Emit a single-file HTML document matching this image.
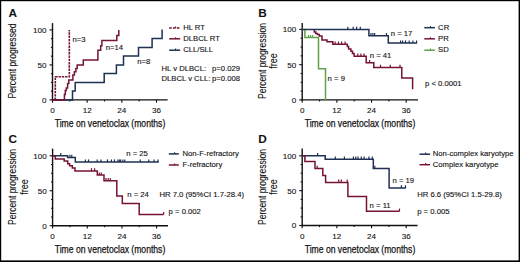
<!DOCTYPE html>
<html><head><meta charset="utf-8"><style>
html,body{margin:0;padding:0;background:#fff;}
body{width:520px;height:262px;overflow:hidden;}
svg{display:block;font-family:"Liberation Sans",sans-serif;}
</style></head><body>
<svg width="520" height="262" viewBox="0 0 520 262">
<rect x="0" y="0" width="520" height="262" fill="#fff"/>
<text x="8.50" y="16.90" font-size="11.8" text-anchor="start" font-weight="bold" fill="#111" >A</text>
<text x="0" y="0" font-size="10.5" text-anchor="middle" transform="translate(16,61) rotate(-90)" textLength="75" lengthAdjust="spacingAndGlyphs" fill="#111" stroke="#111" stroke-width="0.1">Percent progressed</text>
<line x1="52.50" y1="23.10" x2="52.50" y2="100.60" stroke="#111" stroke-width="1.4" />
<line x1="51.80" y1="99.90" x2="167.60" y2="99.90" stroke="#111" stroke-width="1.4" />
<line x1="49.50" y1="99.90" x2="52.50" y2="99.90" stroke="#111" stroke-width="1.1" />
<line x1="50.90" y1="91.15" x2="52.50" y2="91.15" stroke="#111" stroke-width="1.1" />
<line x1="50.90" y1="82.40" x2="52.50" y2="82.40" stroke="#111" stroke-width="1.1" />
<line x1="50.90" y1="73.65" x2="52.50" y2="73.65" stroke="#111" stroke-width="1.1" />
<line x1="49.50" y1="64.90" x2="52.50" y2="64.90" stroke="#111" stroke-width="1.1" />
<line x1="50.90" y1="56.15" x2="52.50" y2="56.15" stroke="#111" stroke-width="1.1" />
<line x1="50.90" y1="47.40" x2="52.50" y2="47.40" stroke="#111" stroke-width="1.1" />
<line x1="50.90" y1="38.65" x2="52.50" y2="38.65" stroke="#111" stroke-width="1.1" />
<line x1="49.50" y1="29.90" x2="52.50" y2="29.90" stroke="#111" stroke-width="1.1" />
<line x1="52.50" y1="99.90" x2="52.50" y2="102.70" stroke="#111" stroke-width="1.1" />
<line x1="69.83" y1="99.90" x2="69.83" y2="101.50" stroke="#111" stroke-width="1.1" />
<line x1="87.17" y1="99.90" x2="87.17" y2="102.70" stroke="#111" stroke-width="1.1" />
<line x1="104.50" y1="99.90" x2="104.50" y2="101.50" stroke="#111" stroke-width="1.1" />
<line x1="121.84" y1="99.90" x2="121.84" y2="102.70" stroke="#111" stroke-width="1.1" />
<line x1="139.17" y1="99.90" x2="139.17" y2="101.50" stroke="#111" stroke-width="1.1" />
<line x1="156.50" y1="99.90" x2="156.50" y2="102.70" stroke="#111" stroke-width="1.1" />
<text x="46.60" y="32.80" font-size="8.1" text-anchor="end" font-weight="normal" fill="#111"  stroke="#111" stroke-width="0.1">100</text>
<text x="46.60" y="67.80" font-size="8.1" text-anchor="end" font-weight="normal" fill="#111"  stroke="#111" stroke-width="0.1">50</text>
<text x="46.60" y="102.80" font-size="8.1" text-anchor="end" font-weight="normal" fill="#111"  stroke="#111" stroke-width="0.1">0</text>
<text x="52.50" y="113.40" font-size="8.1" text-anchor="middle" font-weight="normal" fill="#111"  stroke="#111" stroke-width="0.1">0</text>
<text x="87.17" y="113.40" font-size="8.1" text-anchor="middle" font-weight="normal" fill="#111"  stroke="#111" stroke-width="0.1">12</text>
<text x="121.84" y="113.40" font-size="8.1" text-anchor="middle" font-weight="normal" fill="#111"  stroke="#111" stroke-width="0.1">24</text>
<text x="156.50" y="113.40" font-size="8.1" text-anchor="middle" font-weight="normal" fill="#111"  stroke="#111" stroke-width="0.1">36</text>
<text x="110" y="126.6" font-size="10.5" text-anchor="middle" textLength="110.5" lengthAdjust="spacingAndGlyphs" fill="#111" stroke="#111" stroke-width="0.25">Time on venetoclax (months)</text>
<path d="M52.40,99.90 L72.50,99.90 L72.50,90.90 L75.20,90.90 L75.20,82.50 L104.20,82.50 L104.20,73.50 L116.40,73.50 L116.40,65.00 L123.50,65.00 L123.50,56.00 L138.50,56.00 L138.50,47.60 L152.10,47.60 L152.10,38.60 L162.10,38.60 L162.10,29.60" fill="none" stroke="#1f3052" stroke-width="1.5" stroke-linejoin="miter" stroke-linecap="butt" />
<path d="M52.40,99.90 L64.40,99.90 L64.40,94.50 L65.30,94.50 L65.30,90.50 L66.30,90.50 L66.30,88.00 L67.60,88.00 L67.60,83.40 L68.80,83.40 L68.80,80.00 L72.90,80.00 L72.90,75.10 L74.40,75.10 L74.40,71.80 L75.90,71.80 L75.90,68.40 L77.20,68.40 L77.20,65.00 L83.30,65.00 L83.30,60.00 L97.90,60.00 L97.90,50.20 L100.70,50.20 L100.70,45.80 L101.90,45.80 L101.90,40.40 L116.80,40.40 L116.80,35.60 L118.80,35.60 L118.80,29.90" fill="none" stroke="#761335" stroke-width="1.5" stroke-linejoin="miter" stroke-linecap="butt" />
<path d="M55.30,99.90 L55.30,76.70 L69.30,76.70 L69.30,29.90" fill="none" stroke="#761335" stroke-width="1.6" stroke-linejoin="miter" stroke-linecap="butt" stroke-dasharray="2.4,0.9"/>
<text x="72.50" y="41.50" font-size="7.7" text-anchor="start" font-weight="normal" fill="#111"  stroke="#111" stroke-width="0.12">n=3</text>
<text x="105.80" y="50.10" font-size="7.7" text-anchor="start" font-weight="normal" fill="#111"  stroke="#111" stroke-width="0.12">n=14</text>
<text x="137.20" y="63.70" font-size="7.7" text-anchor="start" font-weight="normal" fill="#111"  stroke="#111" stroke-width="0.12">n=8</text>
<line x1="169.20" y1="28.00" x2="180.20" y2="28.00" stroke="#761335" stroke-width="1.5" stroke-dasharray="2.6,1.2"/>
<line x1="175.58" y1="28.00" x2="175.58" y2="26.40" stroke="#761335" stroke-width="1.1" />
<text x="183.20" y="30.20" font-size="7.7" text-anchor="start" font-weight="normal" fill="#111"  stroke="#111" stroke-width="0.12">HL RT</text>
<line x1="169.20" y1="38.80" x2="180.20" y2="38.80" stroke="#761335" stroke-width="1.5" />
<line x1="175.58" y1="38.80" x2="175.58" y2="37.20" stroke="#761335" stroke-width="1.1" />
<text x="183.20" y="41.00" font-size="7.7" text-anchor="start" font-weight="normal" fill="#111"  stroke="#111" stroke-width="0.12">DLBCL RT</text>
<line x1="169.20" y1="50.20" x2="180.20" y2="50.20" stroke="#1f3052" stroke-width="1.5" />
<line x1="175.58" y1="50.20" x2="175.58" y2="48.60" stroke="#1f3052" stroke-width="1.1" />
<text x="183.20" y="52.40" font-size="7.7" text-anchor="start" font-weight="normal" fill="#111"  stroke="#111" stroke-width="0.12">CLL/SLL</text>
<text x="161.50" y="71.20" font-size="7.7" text-anchor="start" font-weight="normal" fill="#111"  stroke="#111" stroke-width="0.12">HL v DLBCL:</text>
<text x="212.00" y="71.20" font-size="7.7" text-anchor="start" font-weight="normal" fill="#111"  stroke="#111" stroke-width="0.12">p=0.029</text>
<text x="161.50" y="80.90" font-size="7.7" text-anchor="start" font-weight="normal" fill="#111"  stroke="#111" stroke-width="0.12">DLBCL v CLL:</text>
<text x="212.00" y="80.90" font-size="7.7" text-anchor="start" font-weight="normal" fill="#111"  stroke="#111" stroke-width="0.12">p=0.008</text>
<text x="258.20" y="17.20" font-size="11.8" text-anchor="start" font-weight="bold" fill="#111" >B</text>
<text x="0" y="0" font-size="10.5" text-anchor="middle" transform="translate(265.8,61) rotate(-90)" textLength="76" lengthAdjust="spacingAndGlyphs" fill="#111" stroke="#111" stroke-width="0.1">Percent progression</text>
<text x="0" y="0" font-size="10.5" text-anchor="middle" transform="translate(276.6,61) rotate(-90)" textLength="15.5" lengthAdjust="spacingAndGlyphs" fill="#111" stroke="#111" stroke-width="0.1">free</text>
<line x1="302.20" y1="23.00" x2="302.20" y2="100.60" stroke="#111" stroke-width="1.4" />
<line x1="301.50" y1="99.90" x2="418.00" y2="99.90" stroke="#111" stroke-width="1.4" />
<line x1="299.20" y1="99.90" x2="302.20" y2="99.90" stroke="#111" stroke-width="1.1" />
<line x1="300.60" y1="91.09" x2="302.20" y2="91.09" stroke="#111" stroke-width="1.1" />
<line x1="300.60" y1="82.28" x2="302.20" y2="82.28" stroke="#111" stroke-width="1.1" />
<line x1="300.60" y1="73.46" x2="302.20" y2="73.46" stroke="#111" stroke-width="1.1" />
<line x1="299.20" y1="64.65" x2="302.20" y2="64.65" stroke="#111" stroke-width="1.1" />
<line x1="300.60" y1="55.84" x2="302.20" y2="55.84" stroke="#111" stroke-width="1.1" />
<line x1="300.60" y1="47.03" x2="302.20" y2="47.03" stroke="#111" stroke-width="1.1" />
<line x1="300.60" y1="38.21" x2="302.20" y2="38.21" stroke="#111" stroke-width="1.1" />
<line x1="299.20" y1="29.40" x2="302.20" y2="29.40" stroke="#111" stroke-width="1.1" />
<line x1="302.20" y1="99.90" x2="302.20" y2="102.70" stroke="#111" stroke-width="1.1" />
<line x1="319.53" y1="99.90" x2="319.53" y2="101.50" stroke="#111" stroke-width="1.1" />
<line x1="336.87" y1="99.90" x2="336.87" y2="102.70" stroke="#111" stroke-width="1.1" />
<line x1="354.20" y1="99.90" x2="354.20" y2="101.50" stroke="#111" stroke-width="1.1" />
<line x1="371.54" y1="99.90" x2="371.54" y2="102.70" stroke="#111" stroke-width="1.1" />
<line x1="388.87" y1="99.90" x2="388.87" y2="101.50" stroke="#111" stroke-width="1.1" />
<line x1="406.20" y1="99.90" x2="406.20" y2="102.70" stroke="#111" stroke-width="1.1" />
<text x="296.30" y="32.30" font-size="8.1" text-anchor="end" font-weight="normal" fill="#111"  stroke="#111" stroke-width="0.1">100</text>
<text x="296.30" y="67.55" font-size="8.1" text-anchor="end" font-weight="normal" fill="#111"  stroke="#111" stroke-width="0.1">50</text>
<text x="296.30" y="102.80" font-size="8.1" text-anchor="end" font-weight="normal" fill="#111"  stroke="#111" stroke-width="0.1">0</text>
<text x="302.20" y="113.40" font-size="8.1" text-anchor="middle" font-weight="normal" fill="#111"  stroke="#111" stroke-width="0.1">0</text>
<text x="336.87" y="113.40" font-size="8.1" text-anchor="middle" font-weight="normal" fill="#111"  stroke="#111" stroke-width="0.1">12</text>
<text x="371.54" y="113.40" font-size="8.1" text-anchor="middle" font-weight="normal" fill="#111"  stroke="#111" stroke-width="0.1">24</text>
<text x="406.20" y="113.40" font-size="8.1" text-anchor="middle" font-weight="normal" fill="#111"  stroke="#111" stroke-width="0.1">36</text>
<text x="360" y="126.6" font-size="10.5" text-anchor="middle" textLength="110.5" lengthAdjust="spacingAndGlyphs" fill="#111" stroke="#111" stroke-width="0.25">Time on venetoclax (months)</text>
<path d="M302.20,29.40 L304.90,29.40 L304.90,37.60 L318.50,37.60 L318.50,68.70 L325.50,68.70 L325.50,99.90" fill="none" stroke="#62a04a" stroke-width="1.5" stroke-linejoin="miter" stroke-linecap="butt" />
<line x1="308.60" y1="37.60" x2="308.60" y2="34.90" stroke="#62a04a" stroke-width="1.2" />
<line x1="310.60" y1="37.60" x2="310.60" y2="34.90" stroke="#62a04a" stroke-width="1.2" />
<line x1="312.60" y1="37.60" x2="312.60" y2="34.90" stroke="#62a04a" stroke-width="1.2" />
<path d="M314.30,29.40 L314.30,29.40 L314.30,32.00 L315.80,32.00 L315.80,33.40 L317.40,33.40 L317.40,34.60 L319.30,34.60 L319.30,35.90 L322.00,35.90 L322.00,39.90 L327.00,39.90 L327.00,41.80 L332.80,41.80 L332.80,44.20 L347.30,44.20 L347.30,46.40 L348.60,46.40 L348.60,48.90 L350.90,48.90 L350.90,51.20 L352.50,51.20 L352.50,53.50 L354.10,53.50 L354.10,56.20 L366.20,56.20 L366.20,62.80 L373.80,62.80 L373.80,67.40 L401.80,67.40 L401.80,78.00 L412.60,78.00 L412.60,89.30" fill="none" stroke="#761335" stroke-width="1.5" stroke-linejoin="miter" stroke-linecap="butt" />
<line x1="335.10" y1="44.20" x2="335.10" y2="41.50" stroke="#761335" stroke-width="1.2" />
<line x1="338.50" y1="44.20" x2="338.50" y2="41.50" stroke="#761335" stroke-width="1.2" />
<line x1="341.60" y1="44.20" x2="341.60" y2="41.50" stroke="#761335" stroke-width="1.2" />
<line x1="345.10" y1="44.20" x2="345.10" y2="41.50" stroke="#761335" stroke-width="1.2" />
<line x1="357.80" y1="56.20" x2="357.80" y2="53.50" stroke="#761335" stroke-width="1.2" />
<line x1="360.90" y1="56.20" x2="360.90" y2="53.50" stroke="#761335" stroke-width="1.2" />
<line x1="364.00" y1="56.20" x2="364.00" y2="53.50" stroke="#761335" stroke-width="1.2" />
<line x1="369.60" y1="62.80" x2="369.60" y2="60.10" stroke="#761335" stroke-width="1.2" />
<line x1="380.50" y1="67.40" x2="380.50" y2="64.70" stroke="#761335" stroke-width="1.2" />
<line x1="390.30" y1="67.40" x2="390.30" y2="64.70" stroke="#761335" stroke-width="1.2" />
<line x1="400.00" y1="67.40" x2="400.00" y2="64.70" stroke="#761335" stroke-width="1.2" />
<path d="M302.20,29.40 L368.90,29.40 L368.90,35.70 L388.30,35.70 L388.30,43.10 L417.00,43.10" fill="none" stroke="#1f3052" stroke-width="1.5" stroke-linejoin="miter" stroke-linecap="butt" />
<line x1="347.80" y1="29.40" x2="347.80" y2="26.70" stroke="#1f3052" stroke-width="1.2" />
<line x1="353.20" y1="29.40" x2="353.20" y2="26.70" stroke="#1f3052" stroke-width="1.2" />
<line x1="356.60" y1="29.40" x2="356.60" y2="26.70" stroke="#1f3052" stroke-width="1.2" />
<line x1="360.30" y1="29.40" x2="360.30" y2="26.70" stroke="#1f3052" stroke-width="1.2" />
<line x1="371.00" y1="35.70" x2="371.00" y2="33.00" stroke="#1f3052" stroke-width="1.2" />
<line x1="372.90" y1="35.70" x2="372.90" y2="33.00" stroke="#1f3052" stroke-width="1.2" />
<line x1="374.60" y1="35.70" x2="374.60" y2="33.00" stroke="#1f3052" stroke-width="1.2" />
<line x1="386.50" y1="35.70" x2="386.50" y2="33.00" stroke="#1f3052" stroke-width="1.2" />
<line x1="400.60" y1="43.10" x2="400.60" y2="40.40" stroke="#1f3052" stroke-width="1.2" />
<line x1="402.60" y1="43.10" x2="402.60" y2="40.40" stroke="#1f3052" stroke-width="1.2" />
<line x1="405.50" y1="43.10" x2="405.50" y2="40.40" stroke="#1f3052" stroke-width="1.2" />
<line x1="409.20" y1="43.10" x2="409.20" y2="40.40" stroke="#1f3052" stroke-width="1.2" />
<line x1="412.90" y1="43.10" x2="412.90" y2="40.40" stroke="#1f3052" stroke-width="1.2" />
<line x1="416.60" y1="43.10" x2="416.60" y2="40.40" stroke="#1f3052" stroke-width="1.2" />
<text x="390.80" y="36.10" font-size="7.7" text-anchor="start" font-weight="normal" fill="#111"  stroke="#111" stroke-width="0.12">n = 17</text>
<text x="369.80" y="58.00" font-size="7.7" text-anchor="start" font-weight="normal" fill="#111"  stroke="#111" stroke-width="0.12">n = 41</text>
<text x="327.60" y="80.50" font-size="7.7" text-anchor="start" font-weight="normal" fill="#111"  stroke="#111" stroke-width="0.12">n = 9</text>
<line x1="424.30" y1="27.70" x2="434.90" y2="27.70" stroke="#1f3052" stroke-width="1.5" />
<line x1="430.45" y1="27.70" x2="430.45" y2="26.10" stroke="#1f3052" stroke-width="1.1" />
<text x="438.10" y="29.90" font-size="7.7" text-anchor="start" font-weight="normal" fill="#111"  stroke="#111" stroke-width="0.12">CR</text>
<line x1="424.30" y1="38.80" x2="434.90" y2="38.80" stroke="#761335" stroke-width="1.5" />
<line x1="430.45" y1="38.80" x2="430.45" y2="37.20" stroke="#761335" stroke-width="1.1" />
<text x="438.10" y="41.00" font-size="7.7" text-anchor="start" font-weight="normal" fill="#111"  stroke="#111" stroke-width="0.12">PR</text>
<line x1="424.30" y1="50.20" x2="434.90" y2="50.20" stroke="#62a04a" stroke-width="1.5" />
<line x1="430.45" y1="50.20" x2="430.45" y2="48.60" stroke="#62a04a" stroke-width="1.1" />
<text x="438.10" y="52.40" font-size="7.7" text-anchor="start" font-weight="normal" fill="#111"  stroke="#111" stroke-width="0.12">SD</text>
<text x="425.00" y="86.10" font-size="7.7" text-anchor="start" font-weight="normal" fill="#111"  stroke="#111" stroke-width="0.12">p &lt; 0.0001</text>
<text x="8.50" y="142.90" font-size="11.8" text-anchor="start" font-weight="bold" fill="#111" >C</text>
<text x="0" y="0" font-size="10.5" text-anchor="middle" transform="translate(16.3,187) rotate(-90)" textLength="76" lengthAdjust="spacingAndGlyphs" fill="#111" stroke="#111" stroke-width="0.1">Percent progression</text>
<text x="0" y="0" font-size="10.5" text-anchor="middle" transform="translate(27.6,187) rotate(-90)" textLength="15.5" lengthAdjust="spacingAndGlyphs" fill="#111" stroke="#111" stroke-width="0.1">free</text>
<line x1="52.60" y1="148.60" x2="52.60" y2="226.40" stroke="#111" stroke-width="1.4" />
<line x1="51.90" y1="225.70" x2="168.00" y2="225.70" stroke="#111" stroke-width="1.4" />
<line x1="49.60" y1="225.70" x2="52.60" y2="225.70" stroke="#111" stroke-width="1.1" />
<line x1="51.00" y1="216.96" x2="52.60" y2="216.96" stroke="#111" stroke-width="1.1" />
<line x1="51.00" y1="208.22" x2="52.60" y2="208.22" stroke="#111" stroke-width="1.1" />
<line x1="51.00" y1="199.49" x2="52.60" y2="199.49" stroke="#111" stroke-width="1.1" />
<line x1="49.60" y1="190.75" x2="52.60" y2="190.75" stroke="#111" stroke-width="1.1" />
<line x1="51.00" y1="182.01" x2="52.60" y2="182.01" stroke="#111" stroke-width="1.1" />
<line x1="51.00" y1="173.28" x2="52.60" y2="173.28" stroke="#111" stroke-width="1.1" />
<line x1="51.00" y1="164.54" x2="52.60" y2="164.54" stroke="#111" stroke-width="1.1" />
<line x1="49.60" y1="155.80" x2="52.60" y2="155.80" stroke="#111" stroke-width="1.1" />
<line x1="52.60" y1="225.70" x2="52.60" y2="228.50" stroke="#111" stroke-width="1.1" />
<line x1="69.93" y1="225.70" x2="69.93" y2="227.30" stroke="#111" stroke-width="1.1" />
<line x1="87.27" y1="225.70" x2="87.27" y2="228.50" stroke="#111" stroke-width="1.1" />
<line x1="104.60" y1="225.70" x2="104.60" y2="227.30" stroke="#111" stroke-width="1.1" />
<line x1="121.94" y1="225.70" x2="121.94" y2="228.50" stroke="#111" stroke-width="1.1" />
<line x1="139.27" y1="225.70" x2="139.27" y2="227.30" stroke="#111" stroke-width="1.1" />
<line x1="156.60" y1="225.70" x2="156.60" y2="228.50" stroke="#111" stroke-width="1.1" />
<text x="46.70" y="158.70" font-size="8.1" text-anchor="end" font-weight="normal" fill="#111"  stroke="#111" stroke-width="0.1">100</text>
<text x="46.70" y="193.65" font-size="8.1" text-anchor="end" font-weight="normal" fill="#111"  stroke="#111" stroke-width="0.1">50</text>
<text x="46.70" y="228.60" font-size="8.1" text-anchor="end" font-weight="normal" fill="#111"  stroke="#111" stroke-width="0.1">0</text>
<text x="52.60" y="239.20" font-size="8.1" text-anchor="middle" font-weight="normal" fill="#111"  stroke="#111" stroke-width="0.1">0</text>
<text x="87.27" y="239.20" font-size="8.1" text-anchor="middle" font-weight="normal" fill="#111"  stroke="#111" stroke-width="0.1">12</text>
<text x="121.94" y="239.20" font-size="8.1" text-anchor="middle" font-weight="normal" fill="#111"  stroke="#111" stroke-width="0.1">24</text>
<text x="156.60" y="239.20" font-size="8.1" text-anchor="middle" font-weight="normal" fill="#111"  stroke="#111" stroke-width="0.1">36</text>
<text x="110" y="253.2" font-size="10.5" text-anchor="middle" textLength="110.5" lengthAdjust="spacingAndGlyphs" fill="#111" stroke="#111" stroke-width="0.25">Time on venetoclax (months)</text>
<path d="M52.60,155.80 L67.60,155.80 L67.60,157.50 L75.30,157.50 L75.30,162.10 L158.80,162.10" fill="none" stroke="#1f3052" stroke-width="1.5" stroke-linejoin="miter" stroke-linecap="butt" />
<line x1="60.80" y1="155.80" x2="60.80" y2="153.10" stroke="#1f3052" stroke-width="1.2" />
<line x1="69.90" y1="157.50" x2="69.90" y2="154.80" stroke="#1f3052" stroke-width="1.2" />
<line x1="71.80" y1="157.50" x2="71.80" y2="154.80" stroke="#1f3052" stroke-width="1.2" />
<line x1="85.40" y1="162.10" x2="85.40" y2="159.40" stroke="#1f3052" stroke-width="1.2" />
<line x1="88.50" y1="162.10" x2="88.50" y2="159.40" stroke="#1f3052" stroke-width="1.2" />
<line x1="97.20" y1="162.10" x2="97.20" y2="159.40" stroke="#1f3052" stroke-width="1.2" />
<line x1="101.00" y1="162.10" x2="101.00" y2="159.40" stroke="#1f3052" stroke-width="1.2" />
<line x1="107.50" y1="162.10" x2="107.50" y2="159.40" stroke="#1f3052" stroke-width="1.2" />
<line x1="111.40" y1="162.10" x2="111.40" y2="159.40" stroke="#1f3052" stroke-width="1.2" />
<line x1="114.50" y1="162.10" x2="114.50" y2="159.40" stroke="#1f3052" stroke-width="1.2" />
<line x1="118.00" y1="162.10" x2="118.00" y2="159.40" stroke="#1f3052" stroke-width="1.2" />
<line x1="119.30" y1="162.10" x2="119.30" y2="159.40" stroke="#1f3052" stroke-width="1.2" />
<line x1="120.60" y1="162.10" x2="120.60" y2="159.40" stroke="#1f3052" stroke-width="1.2" />
<line x1="122.90" y1="162.10" x2="122.90" y2="159.40" stroke="#1f3052" stroke-width="1.2" />
<line x1="124.80" y1="162.10" x2="124.80" y2="159.40" stroke="#1f3052" stroke-width="1.2" />
<line x1="140.20" y1="162.10" x2="140.20" y2="159.40" stroke="#1f3052" stroke-width="1.2" />
<line x1="148.80" y1="162.10" x2="148.80" y2="159.40" stroke="#1f3052" stroke-width="1.2" />
<line x1="154.10" y1="162.10" x2="154.10" y2="159.40" stroke="#1f3052" stroke-width="1.2" />
<line x1="158.00" y1="162.10" x2="158.00" y2="159.40" stroke="#1f3052" stroke-width="1.2" />
<path d="M52.60,155.80 L55.30,155.80 L55.30,159.10 L64.20,159.10 L64.20,161.10 L67.70,161.10 L67.70,163.80 L69.60,163.80 L69.60,165.70 L72.30,165.70 L72.30,168.00 L75.00,168.00 L75.00,170.90 L97.30,170.90 L97.30,175.10 L104.00,175.10 L104.00,180.80 L116.80,180.80 L116.80,196.00 L122.30,196.00 L122.30,203.50 L139.20,203.50 L139.20,214.60 L163.70,214.60" fill="none" stroke="#761335" stroke-width="1.5" stroke-linejoin="miter" stroke-linecap="butt" />
<line x1="91.50" y1="170.90" x2="91.50" y2="168.20" stroke="#761335" stroke-width="1.2" />
<line x1="94.60" y1="170.90" x2="94.60" y2="168.20" stroke="#761335" stroke-width="1.2" />
<line x1="99.30" y1="175.10" x2="99.30" y2="172.40" stroke="#761335" stroke-width="1.2" />
<line x1="101.30" y1="175.10" x2="101.30" y2="172.40" stroke="#761335" stroke-width="1.2" />
<line x1="106.00" y1="180.80" x2="106.00" y2="178.10" stroke="#761335" stroke-width="1.2" />
<line x1="108.20" y1="180.80" x2="108.20" y2="178.10" stroke="#761335" stroke-width="1.2" />
<line x1="110.30" y1="180.80" x2="110.30" y2="178.10" stroke="#761335" stroke-width="1.2" />
<line x1="163.70" y1="214.60" x2="163.70" y2="211.90" stroke="#761335" stroke-width="1.2" />
<text x="126.30" y="155.90" font-size="7.7" text-anchor="start" font-weight="normal" fill="#111"  stroke="#111" stroke-width="0.12">n = 25</text>
<text x="127.30" y="196.50" font-size="7.7" text-anchor="start" font-weight="normal" fill="#111"  stroke="#111" stroke-width="0.12">n = 24</text>
<line x1="168.80" y1="153.90" x2="178.80" y2="153.90" stroke="#1f3052" stroke-width="1.5" />
<line x1="174.60" y1="153.90" x2="174.60" y2="152.30" stroke="#1f3052" stroke-width="1.1" />
<text x="182.50" y="156.10" font-size="7.7" text-anchor="start" font-weight="normal" fill="#111"  stroke="#111" stroke-width="0.12">Non-F-refractory</text>
<line x1="168.80" y1="165.00" x2="178.80" y2="165.00" stroke="#761335" stroke-width="1.5" />
<line x1="174.60" y1="165.00" x2="174.60" y2="163.40" stroke="#761335" stroke-width="1.1" />
<text x="182.50" y="167.20" font-size="7.7" text-anchor="start" font-weight="normal" fill="#111"  stroke="#111" stroke-width="0.12">F-refractory</text>
<text x="159.40" y="197.40" font-size="7.7" text-anchor="start" font-weight="normal" fill="#111"  stroke="#111" stroke-width="0.12">HR 7.0 (95%CI 1.7-28.4)</text>
<text x="168.60" y="213.90" font-size="7.7" text-anchor="start" font-weight="normal" fill="#111"  stroke="#111" stroke-width="0.12">p = 0.002</text>
<text x="258.30" y="142.90" font-size="11.8" text-anchor="start" font-weight="bold" fill="#111" >D</text>
<text x="0" y="0" font-size="10.5" text-anchor="middle" transform="translate(265.8,187) rotate(-90)" textLength="76" lengthAdjust="spacingAndGlyphs" fill="#111" stroke="#111" stroke-width="0.1">Percent progression</text>
<text x="0" y="0" font-size="10.5" text-anchor="middle" transform="translate(276.6,187) rotate(-90)" textLength="15.5" lengthAdjust="spacingAndGlyphs" fill="#111" stroke="#111" stroke-width="0.1">free</text>
<line x1="302.20" y1="148.60" x2="302.20" y2="226.20" stroke="#111" stroke-width="1.4" />
<line x1="301.50" y1="225.50" x2="417.60" y2="225.50" stroke="#111" stroke-width="1.4" />
<line x1="299.20" y1="225.50" x2="302.20" y2="225.50" stroke="#111" stroke-width="1.1" />
<line x1="300.60" y1="216.79" x2="302.20" y2="216.79" stroke="#111" stroke-width="1.1" />
<line x1="300.60" y1="208.07" x2="302.20" y2="208.07" stroke="#111" stroke-width="1.1" />
<line x1="300.60" y1="199.36" x2="302.20" y2="199.36" stroke="#111" stroke-width="1.1" />
<line x1="299.20" y1="190.65" x2="302.20" y2="190.65" stroke="#111" stroke-width="1.1" />
<line x1="300.60" y1="181.94" x2="302.20" y2="181.94" stroke="#111" stroke-width="1.1" />
<line x1="300.60" y1="173.23" x2="302.20" y2="173.23" stroke="#111" stroke-width="1.1" />
<line x1="300.60" y1="164.51" x2="302.20" y2="164.51" stroke="#111" stroke-width="1.1" />
<line x1="299.20" y1="155.80" x2="302.20" y2="155.80" stroke="#111" stroke-width="1.1" />
<line x1="302.20" y1="225.50" x2="302.20" y2="228.30" stroke="#111" stroke-width="1.1" />
<line x1="319.53" y1="225.50" x2="319.53" y2="227.10" stroke="#111" stroke-width="1.1" />
<line x1="336.87" y1="225.50" x2="336.87" y2="228.30" stroke="#111" stroke-width="1.1" />
<line x1="354.20" y1="225.50" x2="354.20" y2="227.10" stroke="#111" stroke-width="1.1" />
<line x1="371.54" y1="225.50" x2="371.54" y2="228.30" stroke="#111" stroke-width="1.1" />
<line x1="388.87" y1="225.50" x2="388.87" y2="227.10" stroke="#111" stroke-width="1.1" />
<line x1="406.20" y1="225.50" x2="406.20" y2="228.30" stroke="#111" stroke-width="1.1" />
<text x="296.30" y="158.70" font-size="8.1" text-anchor="end" font-weight="normal" fill="#111"  stroke="#111" stroke-width="0.1">100</text>
<text x="296.30" y="193.55" font-size="8.1" text-anchor="end" font-weight="normal" fill="#111"  stroke="#111" stroke-width="0.1">50</text>
<text x="296.30" y="228.40" font-size="8.1" text-anchor="end" font-weight="normal" fill="#111"  stroke="#111" stroke-width="0.1">0</text>
<text x="302.20" y="239.00" font-size="8.1" text-anchor="middle" font-weight="normal" fill="#111"  stroke="#111" stroke-width="0.1">0</text>
<text x="336.87" y="239.00" font-size="8.1" text-anchor="middle" font-weight="normal" fill="#111"  stroke="#111" stroke-width="0.1">12</text>
<text x="371.54" y="239.00" font-size="8.1" text-anchor="middle" font-weight="normal" fill="#111"  stroke="#111" stroke-width="0.1">24</text>
<text x="406.20" y="239.00" font-size="8.1" text-anchor="middle" font-weight="normal" fill="#111"  stroke="#111" stroke-width="0.1">36</text>
<text x="360" y="253.2" font-size="10.5" text-anchor="middle" textLength="110.5" lengthAdjust="spacingAndGlyphs" fill="#111" stroke="#111" stroke-width="0.25">Time on venetoclax (months)</text>
<path d="M302.20,155.80 L325.20,155.80 L325.20,159.30 L373.30,159.30 L373.30,168.50 L389.10,168.50 L389.10,188.00 L405.80,188.00" fill="none" stroke="#1f3052" stroke-width="1.5" stroke-linejoin="miter" stroke-linecap="butt" />
<line x1="317.60" y1="155.80" x2="317.60" y2="153.10" stroke="#1f3052" stroke-width="1.2" />
<line x1="335.30" y1="159.30" x2="335.30" y2="156.60" stroke="#1f3052" stroke-width="1.2" />
<line x1="344.40" y1="159.30" x2="344.40" y2="156.60" stroke="#1f3052" stroke-width="1.2" />
<line x1="353.40" y1="159.30" x2="353.40" y2="156.60" stroke="#1f3052" stroke-width="1.2" />
<line x1="355.80" y1="159.30" x2="355.80" y2="156.60" stroke="#1f3052" stroke-width="1.2" />
<line x1="358.00" y1="159.30" x2="358.00" y2="156.60" stroke="#1f3052" stroke-width="1.2" />
<line x1="361.30" y1="159.30" x2="361.30" y2="156.60" stroke="#1f3052" stroke-width="1.2" />
<line x1="364.10" y1="159.30" x2="364.10" y2="156.60" stroke="#1f3052" stroke-width="1.2" />
<line x1="368.90" y1="159.30" x2="368.90" y2="156.60" stroke="#1f3052" stroke-width="1.2" />
<line x1="372.30" y1="159.30" x2="372.30" y2="156.60" stroke="#1f3052" stroke-width="1.2" />
<line x1="374.80" y1="168.50" x2="374.80" y2="165.80" stroke="#1f3052" stroke-width="1.2" />
<line x1="401.40" y1="188.00" x2="401.40" y2="185.30" stroke="#1f3052" stroke-width="1.2" />
<line x1="405.50" y1="188.00" x2="405.50" y2="185.30" stroke="#1f3052" stroke-width="1.2" />
<path d="M302.20,155.80 L304.90,155.80 L304.90,161.60 L315.00,161.60 L315.00,168.50 L322.80,168.50 L322.80,175.60 L325.60,175.60 L325.60,182.40 L347.90,182.40 L347.90,196.60 L366.50,196.60 L366.50,211.30 L399.50,211.30" fill="none" stroke="#761335" stroke-width="1.5" stroke-linejoin="miter" stroke-linecap="butt" />
<line x1="317.20" y1="168.50" x2="317.20" y2="165.80" stroke="#761335" stroke-width="1.2" />
<line x1="338.70" y1="182.30" x2="338.70" y2="179.60" stroke="#761335" stroke-width="1.2" />
<line x1="341.30" y1="182.30" x2="341.30" y2="179.60" stroke="#761335" stroke-width="1.2" />
<line x1="347.20" y1="182.30" x2="347.20" y2="179.60" stroke="#761335" stroke-width="1.2" />
<line x1="399.50" y1="211.30" x2="399.50" y2="208.60" stroke="#761335" stroke-width="1.2" />
<text x="392.50" y="182.90" font-size="7.7" text-anchor="start" font-weight="normal" fill="#111"  stroke="#111" stroke-width="0.12">n = 19</text>
<text x="369.60" y="208.10" font-size="7.7" text-anchor="start" font-weight="normal" fill="#111"  stroke="#111" stroke-width="0.12">n = 11</text>
<line x1="419.50" y1="154.20" x2="430.10" y2="154.20" stroke="#1f3052" stroke-width="1.5" />
<line x1="425.65" y1="154.20" x2="425.65" y2="152.60" stroke="#1f3052" stroke-width="1.1" />
<text x="432.80" y="156.40" font-size="7.7" text-anchor="start" font-weight="normal" fill="#111"  stroke="#111" stroke-width="0.12">Non-complex karyotype</text>
<line x1="419.50" y1="164.70" x2="430.10" y2="164.70" stroke="#761335" stroke-width="1.5" />
<line x1="425.65" y1="164.70" x2="425.65" y2="163.10" stroke="#761335" stroke-width="1.1" />
<text x="432.80" y="166.90" font-size="7.7" text-anchor="start" font-weight="normal" fill="#111"  stroke="#111" stroke-width="0.12">Complex karyotype</text>
<text x="417.20" y="197.30" font-size="7.7" text-anchor="start" font-weight="normal" fill="#111"  stroke="#111" stroke-width="0.12">HR 6.6 (95%CI 1.5-29.8)</text>
<text x="417.20" y="214.40" font-size="7.7" text-anchor="start" font-weight="normal" fill="#111"  stroke="#111" stroke-width="0.12">p = 0.005</text>
<rect x="0" y="0" width="520" height="1.2" fill="#000"/><rect x="0" y="0" width="1.2" height="262" fill="#000"/><rect x="518.6" y="0" width="1.4" height="262" fill="#000"/><rect x="0" y="260.4" width="520" height="1.6" fill="#000"/>
</svg>
</body></html>
